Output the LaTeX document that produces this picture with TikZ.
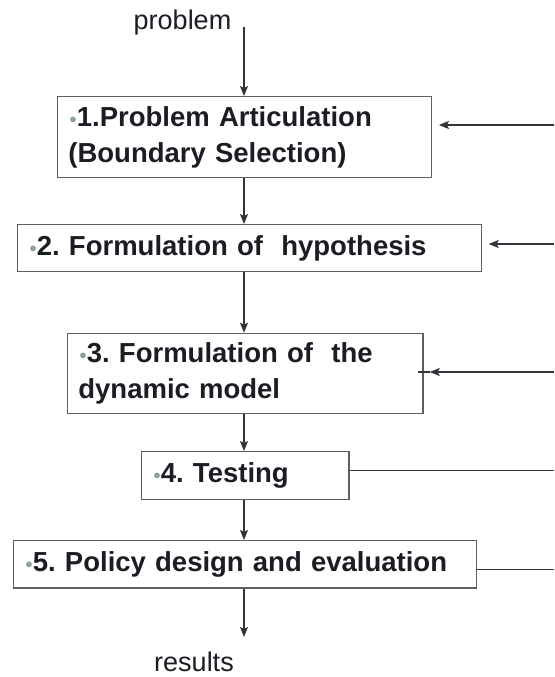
\documentclass[tikz,border=0pt]{standalone}
\usepackage{fontspec}
\setmainfont{Liberation Sans}
\usetikzlibrary{arrows.meta}
\definecolor{txt}{HTML}{1C1C24}
\definecolor{boxc}{HTML}{5E5E66}
\definecolor{linec}{HTML}{33333B}
\definecolor{bulc}{HTML}{8AA394}
\newcommand{\mybul}{\hspace*{1.2pt}{\color{bulc}\fontsize{20}{20}\selectfont\textbullet}\hspace{0.3pt}}
\begin{document}
\begin{tikzpicture}[x=1pt,y=-1pt,
  stepbox/.style={draw=boxc, line width=1.4pt, fill=white, anchor=north west, align=left,
    inner xsep=11pt, inner ysep=0pt, text=txt, font=\fontsize{27.5}{36.5}\selectfont\bfseries\frenchspacing},
  arr/.style={draw=linec, line width=1.1pt, -{Stealth[length=10pt,width=8pt,inset=2pt]}},
  plain/.style={draw=linec, line width=1.1pt},
  lbl/.style={text=txt, font=\fontsize{27}{32}\selectfont, inner sep=0pt, anchor=base}]
\useasboundingbox (0,0) rectangle (554,677);
\fill[white] (0,0) rectangle (554,677);
\node[stepbox, minimum width=374.3pt, minimum height=81pt, text width=352.3pt] (b1) at (56.7,96)
  {\mybul 1.Problem Articulation\\(Boundary Selection)};
\node[stepbox, minimum width=464.3pt, minimum height=47pt, text width=442.3pt] (b2) at (16.7,224)
  {\mybul 2. Formulation of~ hypothesis};
\node[stepbox, minimum width=355.6pt, minimum height=80.3pt, text width=333.6pt] (b3) at (66.7,332.7)
  {\mybul 3. Formulation of~ the\\dynamic model};
\node[stepbox, minimum width=207.6pt, minimum height=47.7pt, text width=185.6pt] (b4) at (140.7,451)
  {\mybul 4. Testing};
\node[stepbox, minimum width=463.3pt, minimum height=47.3pt, text width=441.3pt] (b5) at (12.7,540)
  {\mybul 5. Policy design and evaluation};
\node[lbl] (prob) at (182.5,30) {problem};
\node[lbl] (res) at (194,671.5) {results};
% column and free ends
\coordinate (col) at (244,0);
\coordinate (top) at (244,27);
\coordinate (bot) at (244,637);
\coordinate (r1) at (554,125);
\coordinate (r2) at (554,244);
\coordinate (r3) at (554,372);
\coordinate (r4) at (554,470.7);
\coordinate (r5) at (554,569.3);
% vertical arrows
\draw[arr] (top) -- (col |- b1.north);
\draw[arr] (col |- b1.south) -- (col |- b2.north);
\draw[arr] (col |- b2.south) -- (col |- b3.north);
\draw[arr] (col |- b3.south) -- (col |- b4.north);
\draw[arr] (col |- b4.south) -- (col |- b5.north);
\draw[arr] (col |- b5.south) -- (bot);
% feedback lines
\draw[arr, shorten >=6.5pt] (r1) -- (b1.east |- r1);
\draw[arr, shorten >=6.3pt] (r2) -- (b2.east |- r2);
\draw[arr] (r3) -- ([xshift=6pt]b3.east |- r3);
\draw[plain] ([xshift=6pt]b3.east |- r3) -- ([xshift=-5.5pt]b3.east |- r3);
\draw[plain] (b4.east |- r4) -- (r4);
\draw[plain] (b5.east |- r5) -- (r5);
\end{tikzpicture}
\end{document}
